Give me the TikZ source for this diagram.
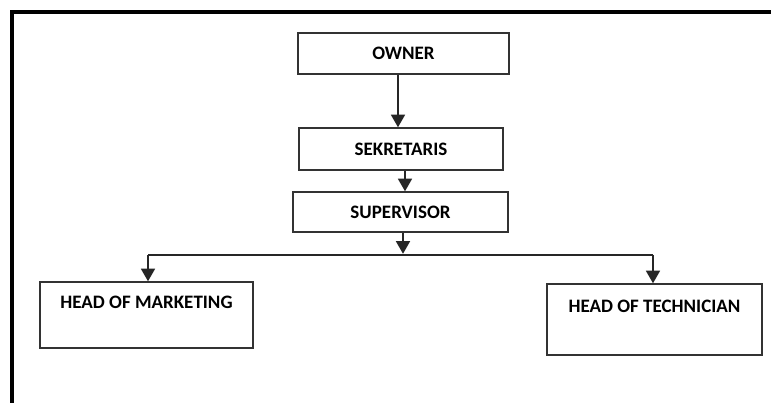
\documentclass[tikz,border=0pt]{standalone}
\usepackage{fontspec}
\setmainfont{Carlito}
\usetikzlibrary{arrows.meta}
\begin{document}
\begin{tikzpicture}[x=1pt,y=-1pt,
  boxnode/.style={draw=black!80,line width=1.5pt,inner sep=0pt,font=\bfseries\fontsize{19}{21}\selectfont},
  lbl/.style={inner sep=0pt,font=\bfseries\fontsize{19}{21}\selectfont},
  conn/.style={draw=black!85,line width=1.3pt,-{Triangle[length=12.5pt,width=14pt]}},
  line/.style={draw=black!85,line width=1.3pt}]
\useasboundingbox (0,0) rectangle (771,403);
\fill[white] (0,0) rectangle (771,403);
\draw[line width=4pt,black] (12,403) -- (12,12) -- (771,12);
% boxes
\node[boxnode,minimum width=211pt,minimum height=41pt] (owner) at (403.5,53.5) {OWNER};
\node[boxnode,minimum width=204pt,minimum height=42pt] (sek) at (401,149) {SEKRETARIS};
\node[boxnode,minimum width=215pt,minimum height=40pt] (sup) at (400.5,212) {SUPERVISOR};
\node[boxnode,minimum width=213pt,minimum height=66pt] (mkt) at (146.5,315) {};
\node[lbl] (mktl) at (146.5,302) {HEAD OF MARKETING};
\node[boxnode,minimum width=215pt,minimum height=71pt] (tech) at (654.5,319.5) {};
\node[lbl] (techl) at (654.5,306) {HEAD OF TECHNICIAN};
% connectors
\coordinate (jl) at (148,255);
\coordinate (jr) at (653,255);
\draw[conn] ([xshift=-5.5pt]owner.south) -- ([xshift=-3pt]sek.north);
\draw[conn] ([xshift=4pt]sek.south) -- ([xshift=4.5pt]sup.north);
\draw[conn] ([xshift=2.5pt]sup.south) -- ([xshift=2.5pt,yshift=-21pt]sup.south);
\draw[line] (jl) -- (jr);
\draw[conn] (jl) -- (jl |- mkt.north);
\draw[conn] (jr) -- (jr |- tech.north);
\end{tikzpicture}
\end{document}
